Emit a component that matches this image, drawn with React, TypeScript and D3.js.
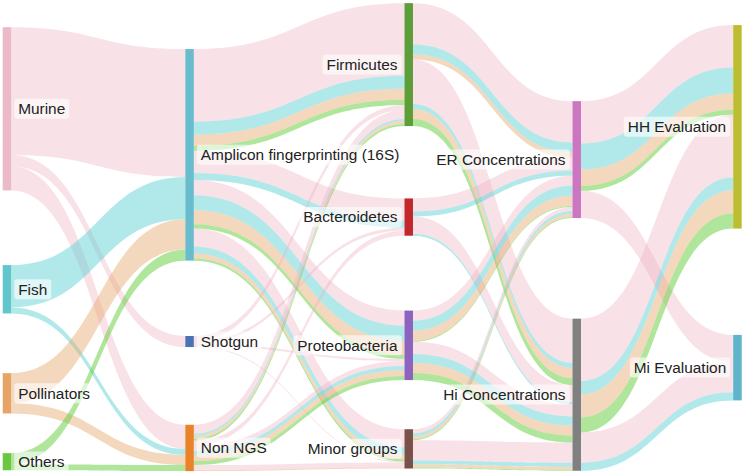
import React, { useEffect, useRef } from 'react';
import * as d3 from 'd3';

// host groups, each flow is coloured by the host it comes from
const hosts = ['Murine', 'Fish', 'Pollinators', 'Others'];
const methods = ['Amplicon fingerprinting (16S)', 'Shotgun', 'Non NGS'];
const phyla = ['Firmicutes', 'Bacteroidetes', 'Proteobacteria', 'Minor groups'];
const concentrations = ['ER Concentrations', 'Hi Concentrations'];
const evaluations = ['HH Evaluation', 'Mi Evaluation'];

// host -> method: [host, method, value]
const hostMethod: [string, string, number][] = [
  ['Murine', 'Amplicon fingerprinting (16S)', 127],
  ['Murine', 'Shotgun', 11],
  ['Murine', 'Non NGS', 24],
  ['Fish', 'Amplicon fingerprinting (16S)', 42],
  ['Fish', 'Non NGS', 6],
  ['Pollinators', 'Amplicon fingerprinting (16S)', 30],
  ['Pollinators', 'Non NGS', 10],
  ['Others', 'Amplicon fingerprinting (16S)', 11],
  ['Others', 'Non NGS', 6],
];

// method -> phylum: [source, target, murine, fish, pollinators, others]
const methodPhylum: [string, string, number, number, number, number][] = [
  ['Amplicon fingerprinting (16S)', 'Firmicutes', 72, 13, 11, 5],
  ['Amplicon fingerprinting (16S)', 'Bacteroidetes', 22, 7, 0, 0],
  ['Amplicon fingerprinting (16S)', 'Proteobacteria', 15, 15, 14, 4],
  ['Amplicon fingerprinting (16S)', 'Minor groups', 18, 7, 5, 2],
  ['Shotgun', 'Firmicutes', 5, 0, 0, 0],
  ['Shotgun', 'Bacteroidetes', 3, 0, 0, 0],
  ['Shotgun', 'Proteobacteria', 2, 0, 0, 0],
  ['Shotgun', 'Minor groups', 1, 0, 0, 0],
  ['Non NGS', 'Firmicutes', 9, 2, 3, 2],
  ['Non NGS', 'Bacteroidetes', 5, 0, 0, 0],
  ['Non NGS', 'Proteobacteria', 5, 4, 6, 4],
  ['Non NGS', 'Minor groups', 5, 0, 1, 0],
];

// phylum -> concentration
const phylumConc: [string, string, number, number, number, number][] = [
  ['Firmicutes', 'ER Concentrations', 41, 10, 5, 0],
  ['Firmicutes', 'Hi Concentrations', 44, 5, 10, 7],
  ['Bacteroidetes', 'ER Concentrations', 13, 5, 0, 0],
  ['Bacteroidetes', 'Hi Concentrations', 17, 2, 0, 0],
  ['Proteobacteria', 'ER Concentrations', 10, 10, 10, 1],
  ['Proteobacteria', 'Hi Concentrations', 12, 9, 10, 7],
  ['Minor groups', 'ER Concentrations', 4, 3, 3, 1],
  ['Minor groups', 'Hi Concentrations', 20, 4, 3, 1],
];

// concentration -> evaluation
const concEval: [string, string, number, number, number, number][] = [
  ['ER Concentrations', 'HH Evaluation', 42, 26, 16, 5],
  ['ER Concentrations', 'Mi Evaluation', 27, 0, 0, 0],
  ['Hi Concentrations', 'HH Evaluation', 62, 13, 23, 15],
  ['Hi Concentrations', 'Mi Evaluation', 30, 8, 0, 0],
];

const stages = [hosts, methods, phyla, concentrations, evaluations];

// arrangement options (like a sankey trace's node.x / node.y, as fractions of the plot)
const stageX = [0, 0.25, 0.55, 0.78, 1];
const nodeY: Record<string, number> = {
  'Murine': 0.229, 'Fish': 0.609, 'Pollinators': 0.828, 'Others': 0.972,
  'Amplicon fingerprinting (16S)': 0.326, 'Shotgun': 0.719, 'Non NGS': 0.943,
  'Firmicutes': 0.136, 'Bacteroidetes': 0.457, 'Proteobacteria': 0.727, 'Minor groups': 0.945,
  'ER Concentrations': 0.336, 'Hi Concentrations': 0.831,
  'HH Evaluation': 0.267, 'Mi Evaluation': 0.774,
};

const nodeColors: Record<string, string> = {
  'Murine': '#ebbac6',
  'Fish': '#62c6cd',
  'Pollinators': '#e6a566',
  'Others': '#6cc740',
  'Amplicon fingerprinting (16S)': '#68bccc',
  'Shotgun': '#4a73b7',
  'Non NGS': '#e8832a',
  'Firmicutes': '#5e9e3a',
  'Bacteroidetes': '#c0282e',
  'Proteobacteria': '#8c63bd',
  'Minor groups': '#7a5149',
  'ER Concentrations': '#cc76c2',
  'Hi Concentrations': '#808080',
  'HH Evaluation': '#bdbd34',
  'Mi Evaluation': '#5db4cb',
};
const hostColors = [
  'rgba(236,176,192,0.38)',
  'rgba(84,206,212,0.46)',
  'rgba(230,166,104,0.44)',
  'rgba(96,206,56,0.5)',
];

interface SNode {
  name: string; col: number; value: number;
  y: number; dy: number; x0: number; x1: number;
  sourceLinks: SLink[]; targetLinks: SLink[];
}
interface SLink {
  source: SNode; target: SNode; host: number; value: number;
  dy: number; sy: number; ty: number;
}

function layout(width: number, height: number) {
  const nodeW = 8.5;
  const byName = new Map<string, SNode>();
  const columns: SNode[][] = stages.map((names, col) =>
    names.map((name) => {
      const n: SNode = { name, col, value: 0, y: 0, dy: 0, x0: 0, x1: 0, sourceLinks: [], targetLinks: [] };
      byName.set(name, n);
      return n;
    })
  );
  const links: SLink[] = [];
  const add = (s: string, t: string, host: number, value: number) => {
    if (!value) return;
    const l: SLink = { source: byName.get(s)!, target: byName.get(t)!, host, value, dy: 0, sy: 0, ty: 0 };
    l.source.sourceLinks.push(l);
    l.target.targetLinks.push(l);
    links.push(l);
  };
  hostMethod.forEach(([s, t, v]) => add(s, t, hosts.indexOf(s), v));
  [methodPhylum, phylumConc, concEval].forEach((rows) =>
    rows.forEach(([s, t, ...vals]) => vals.forEach((v, h) => add(s, t, h, v)))
  );

  const nodes = columns.flat();
  nodes.forEach((n) => {
    n.value = Math.max(d3.sum(n.sourceLinks, (l) => l.value), d3.sum(n.targetLinks, (l) => l.value));
  });

  const x = d3.scaleLinear().domain([0, 1]).range([2.7, width - 2.3 - nodeW]);
  const y = d3.scaleLinear().domain([0, 1]).range([0, height]);
  const maxTotal = d3.max(columns, (c) => d3.sum(c, (n) => n.value))!;
  const ky = d3.scaleLinear().domain([0, maxTotal]).range([0, 269]);

  nodes.forEach((n) => {
    n.x0 = x(stageX[n.col]);
    n.x1 = n.x0 + nodeW;
    n.dy = ky(n.value);
    n.y = y(nodeY[n.name]) - n.dy / 2;
  });
  links.forEach((l) => { l.dy = ky(l.value); });

  nodes.forEach((n) => {
    n.sourceLinks.sort((a, b) => a.target.y - b.target.y || a.host - b.host);
    n.targetLinks.sort((a, b) => a.source.y - b.source.y || a.host - b.host);
    let sy = 0, ty = 0;
    n.sourceLinks.forEach((l) => { l.sy = sy; sy += l.dy; });
    n.targetLinks.forEach((l) => { l.ty = ty; ty += l.dy; });
  });
  return { nodes, links };
}

function linkPath(l: SLink) {
  const x0 = l.source.x1, x1 = l.target.x0;
  const xi = d3.interpolateNumber(x0, x1);
  const xa = xi(0.5), xb = xi(0.5);
  const y0 = l.source.y + l.sy, y1 = l.target.y + l.ty;
  const p = d3.path();
  p.moveTo(x0, y0);
  p.bezierCurveTo(xa, y0, xb, y1, x1, y1);
  p.lineTo(x1, y1 + l.dy);
  p.bezierCurveTo(xb, y1 + l.dy, xa, y0 + l.dy, x0, y0 + l.dy);
  p.closePath();
  return p.toString();
}

export default function App() {
  const ref = useRef<SVGSVGElement>(null);
  const width = 744, height = 475;

  useEffect(() => {
    const svg = d3.select(ref.current);
    svg.selectAll('*').remove();
    const { nodes, links } = layout(width, height);

    svg.append('g')
      .selectAll('path')
      .data(links)
      .join('path')
      .attr('d', linkPath)
      .attr('fill', (d) => hostColors[d.host]);

    svg.append('g')
      .selectAll('rect')
      .data(nodes)
      .join('rect')
      .attr('x', (d) => d.x0)
      .attr('y', (d) => d.y)
      .attr('width', (d) => d.x1 - d.x0)
      .attr('height', (d) => d.dy)
      .attr('fill', (d) => nodeColors[d.name]);

    const labels = svg.append('g')
      .attr('font-family', '"Liberation Sans", Arial, sans-serif')
      .attr('font-size', 15.4)
      .selectAll('g')
      .data(nodes)
      .join('g');
    const texts = labels.append('text')
      .attr('x', (d) => (d.col < 2 ? d.x1 + 7 : d.x0 - 7))
      .attr('y', (d) => d.y + d.dy / 2)
      .attr('dy', '0.35em')
      .attr('text-anchor', (d) => (d.col < 2 ? 'start' : 'end'))
      .attr('fill', '#222')
      .text((d) => d.name);
    texts.each(function () {
      const b = (this as SVGTextElement).getBBox();
      d3.select((this as SVGTextElement).parentNode as SVGGElement)
        .insert('rect', 'text')
        .attr('x', b.x - 4)
        .attr('y', b.y - 1.5)
        .attr('width', b.width + 8)
        .attr('height', b.height + 3)
        .attr('rx', 3)
        .attr('fill', 'rgba(255,255,255,0.6)');
    });
  }, []);

  return (
    <svg ref={ref} width={width} height={height}
      style={{ position: 'absolute', left: 0, top: 0, background: '#fff' }} />
  );
}
